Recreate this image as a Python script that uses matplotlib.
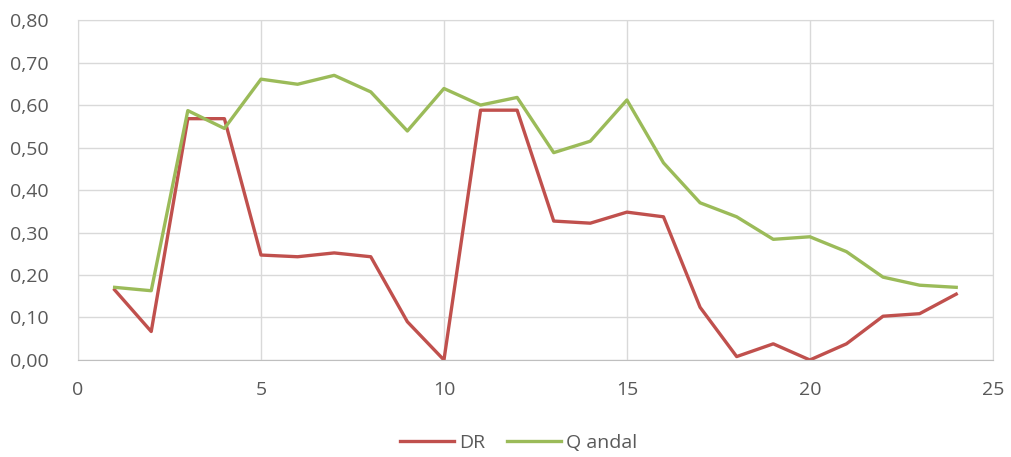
import matplotlib
matplotlib.use("Agg")
import matplotlib.pyplot as plt
from matplotlib.ticker import FuncFormatter, MultipleLocator

x = list(range(1, 25))
dr = [0.165, 0.067, 0.568, 0.568, 0.247, 0.243, 0.252, 0.243, 0.090, 0.000,
      0.588, 0.588, 0.327, 0.322, 0.348, 0.337, 0.124, 0.008, 0.038, 0.000,
      0.038, 0.103, 0.109, 0.155]
qandal = [0.171, 0.163, 0.587, 0.545, 0.661, 0.649, 0.670, 0.631, 0.539, 0.639,
          0.600, 0.618, 0.488, 0.515, 0.612, 0.464, 0.370, 0.337, 0.284, 0.290,
          0.255, 0.195, 0.176, 0.171]
labels = ["DR", "Q andal"]

plt.rcParams['font.family'] = ['Open Sans', 'DejaVu Sans']

fig = plt.figure(figsize=(10.11, 4.57), dpi=100)
ax = fig.add_axes([0.0772, 0.2123, 0.9048, 0.7437])

ax.plot(x, dr, color='#C0504D', lw=2.4, label=labels[0], solid_joinstyle='round')
ax.plot(x, qandal, color='#9BBB59', lw=2.4, label=labels[1], solid_joinstyle='round')

ax.set_xlim(0, 25)
ax.set_ylim(0, 0.8)
ax.xaxis.set_major_locator(MultipleLocator(5))
ax.yaxis.set_major_locator(MultipleLocator(0.1))
ax.yaxis.set_major_formatter(FuncFormatter(lambda v, p: f"{v:.2f}".replace('.', ',')))
ax.grid(True, color='#D9D9D9', lw=1)
ax.set_axisbelow(True)
for s in ['top', 'right', 'left']:
    ax.spines[s].set_color('#D9D9D9')
ax.spines['bottom'].set_color('#BFBFBF')
ax.tick_params(length=0, labelsize=14, colors='#595959')
ax.tick_params(axis='y', pad=21)
ax.tick_params(axis='x', pad=15)

fig.legend(*ax.get_legend_handles_labels(), loc='center', bbox_to_anchor=(0.513, 0.03),
           ncol=2, frameon=False, fontsize=14, labelcolor='#595959',
           handlelength=2.8, handletextpad=0.25, columnspacing=1.1)

fig.savefig('out.png', dpi=100)
